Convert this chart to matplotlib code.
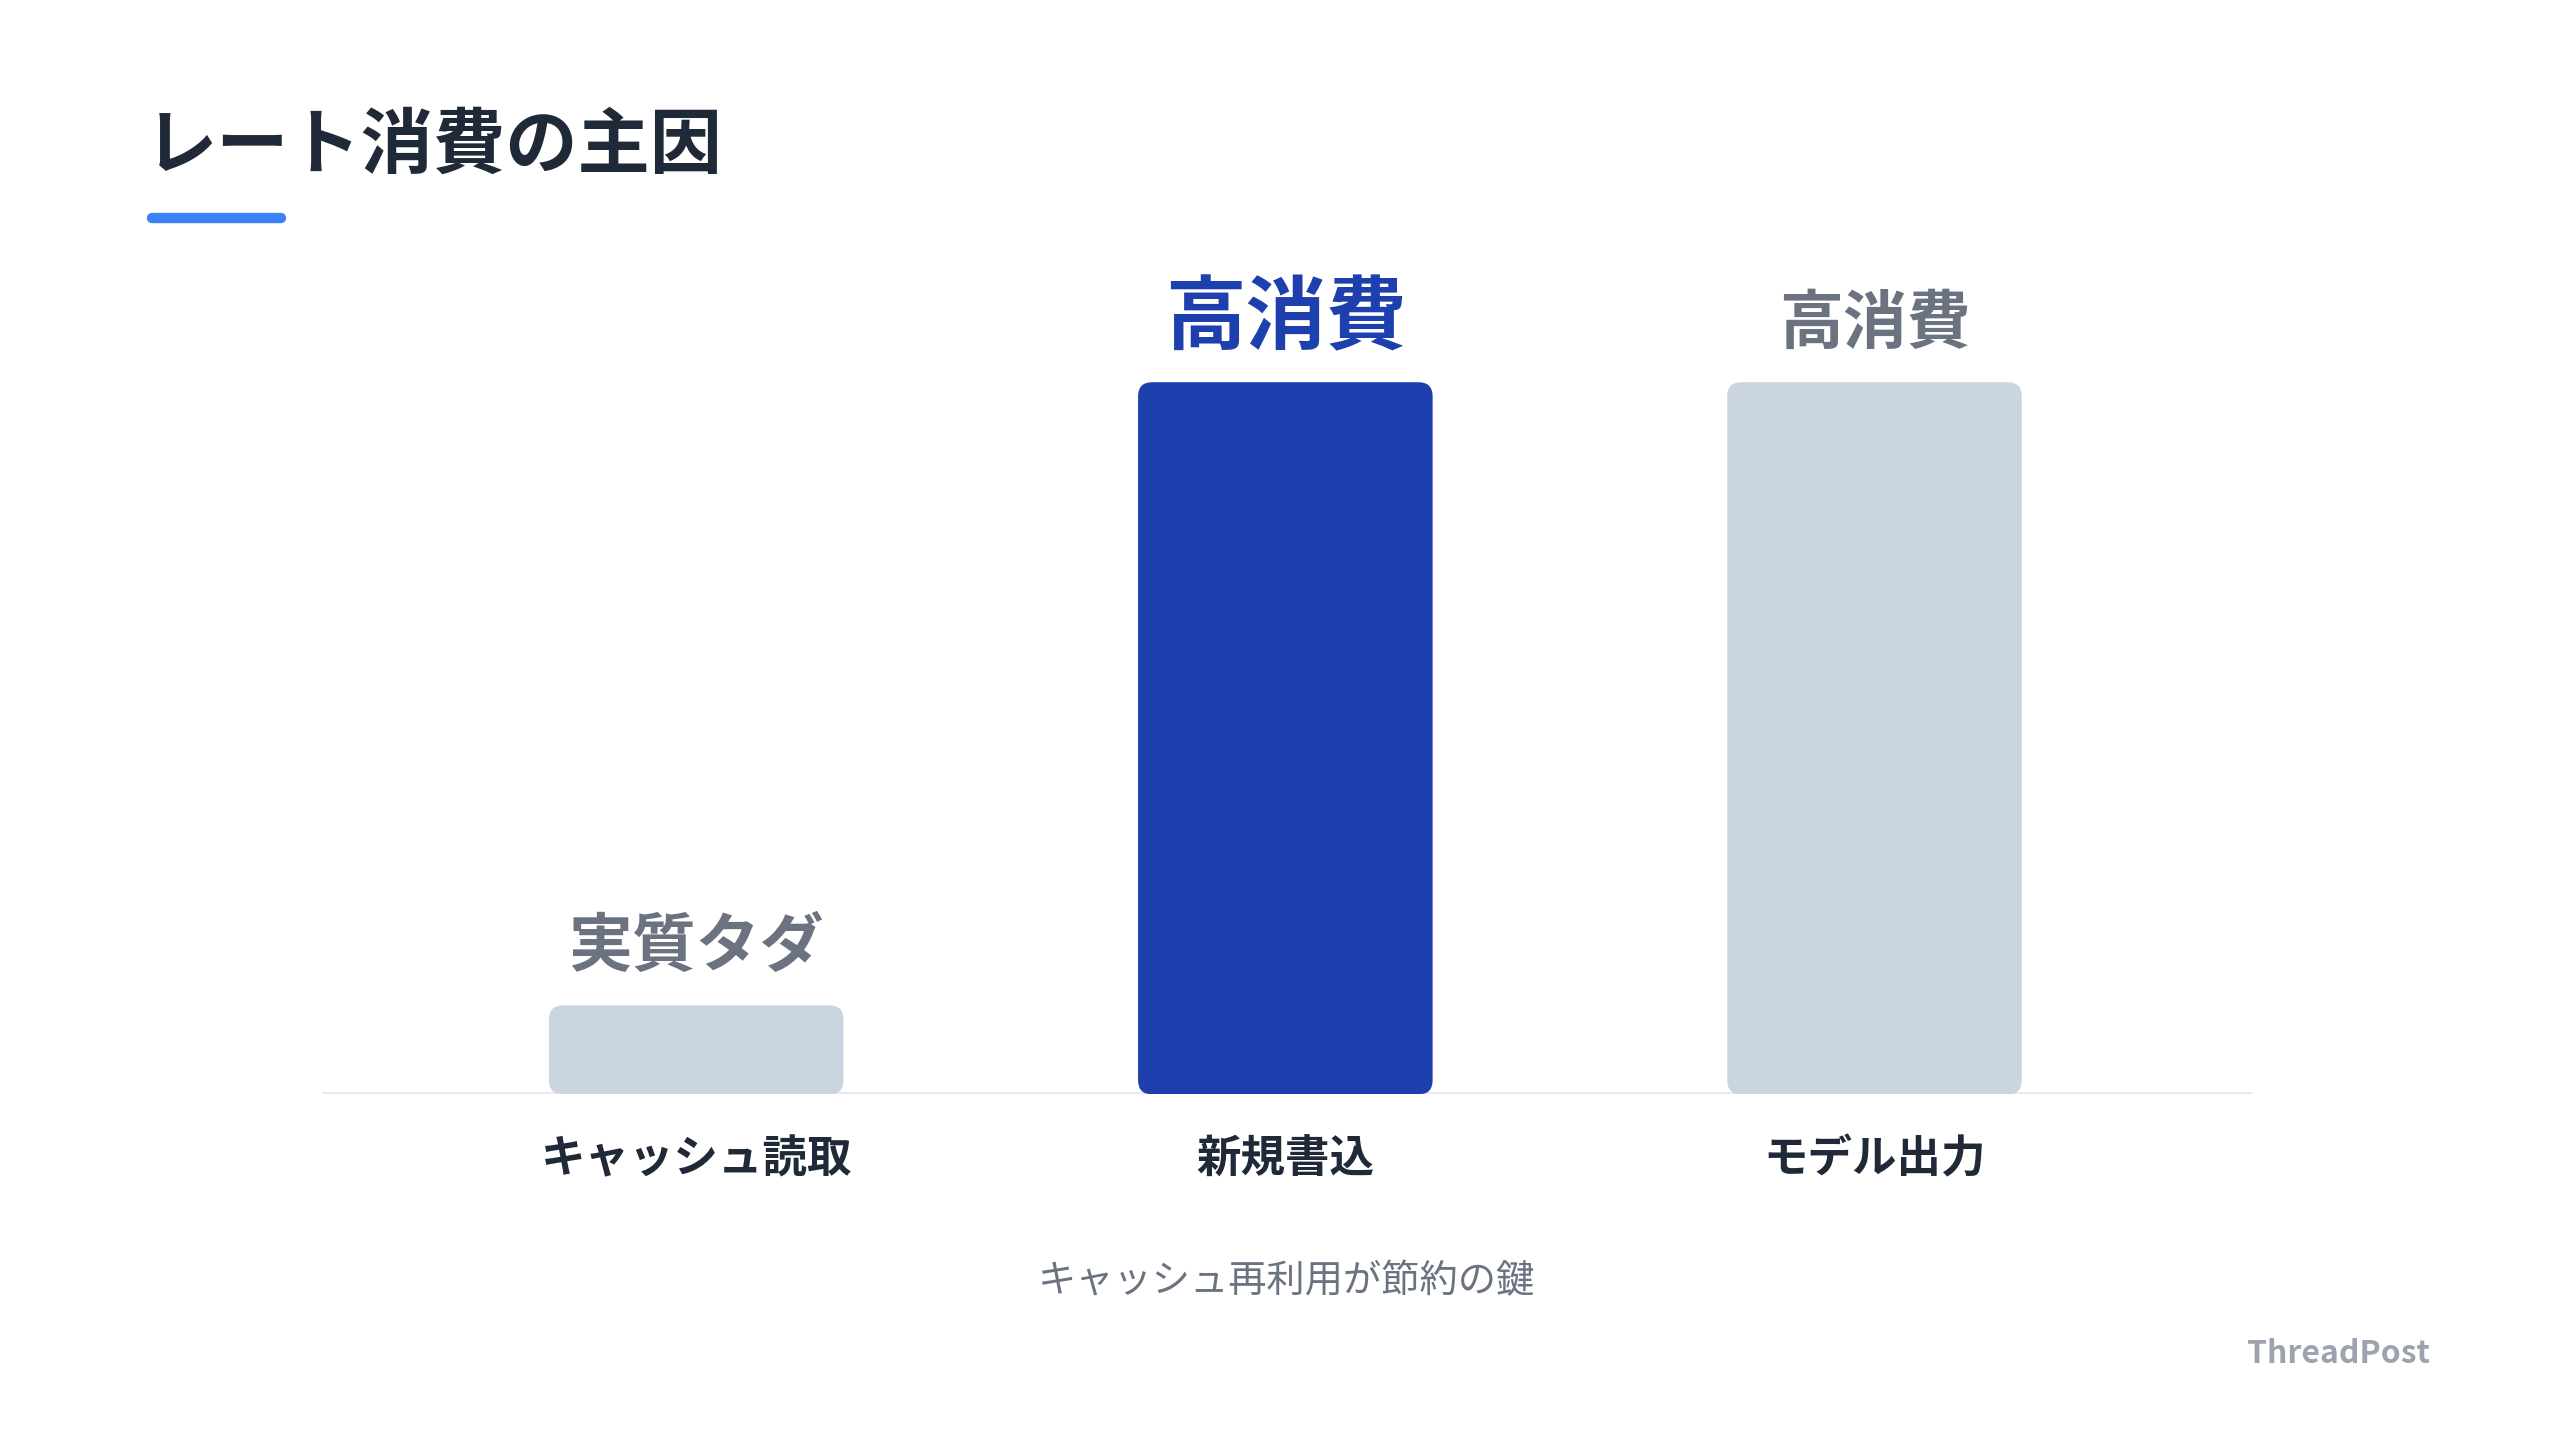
import matplotlib.pyplot as plt
from matplotlib.patches import FancyBboxPatch
from matplotlib.lines import Line2D

plt.rcParams['font.family'] = ['Noto Sans CJK JP', 'DejaVu Sans']

# data
categories = ['キャッシュ読取', '新規書込', 'モデル出力']
values = [12.5, 100, 100]
value_labels = ['実質タダ', '高消費', '高消費']
highlight = 1

title = 'レート消費の主因'
subtitle = 'キャッシュ再利用が節約の鍵'
brand = 'ThreadPost'

DARK = '#1f2937'
GRAY = '#6b7280'
LIGHT_GRAY = '#9ca3af'
BLUE = '#1e40af'
BAR_GRAY = '#cbd5e1'
ACCENT = '#3b82f6'

fig = plt.figure(figsize=(25.6, 14.4), dpi=100)
fig.patch.set_facecolor('white')

ax_left, ax_right = 0.1256, 0.8795
ax_bottom, ax_top = 0.240, 0.800
ax = fig.add_axes([ax_left, ax_bottom, ax_right - ax_left, ax_top - ax_bottom])

x = list(range(len(categories)))
xmin, xmax = -0.636, 2.64
ymax = 100 * (ax_top - ax_bottom) * 877.5 / 434
ax.set_xlim(xmin, xmax)
ax.set_ylim(0, ymax)

# invisible bars for geometry, then rounded patches on top
bars = ax.bar(x, values, width=0.5, color='none')
w_px = (ax_right - ax_left) * 2560
h_px = (ax_top - ax_bottom) * 1440
aspect = (ymax / h_px) / ((xmax - xmin) / w_px)
radius = 0.024
for i, b in enumerate(bars):
    color = BLUE if i == highlight else BAR_GRAY
    patch = FancyBboxPatch((b.get_x(), 0), b.get_width(), b.get_height(),
                           boxstyle=f'round,pad=0,rounding_size={radius}',
                           mutation_aspect=aspect, facecolor=color,
                           edgecolor='none', zorder=3)
    ax.add_patch(patch)

    if i == highlight:
        ax.annotate(value_labels[i], (b.get_x() + b.get_width() / 2, b.get_height()),
                    xytext=(0, 45), textcoords='offset points', ha='center', va='center',
                    fontsize=58, fontweight='bold', color=BLUE)
    else:
        ax.annotate(value_labels[i], (b.get_x() + b.get_width() / 2, b.get_height()),
                    xytext=(0, 42), textcoords='offset points', ha='center', va='center',
                    fontsize=46, fontweight='bold', color=GRAY)

ax.axhline(0, color='#e5e7eb', linewidth=2.6, zorder=1)

ax.set_xticks(x)
ax.set_xticklabels(categories, fontsize=32, fontweight='bold', color=DARK, va='center')
ax.tick_params(axis='x', length=0, pad=47)
ax.set_yticks([])
for s in ax.spines.values():
    s.set_visible(False)
ax.patch.set_alpha(0)

# title and accent bar
fig.text(0.0565, 0.898, title, fontsize=52, fontweight='bold', color=DARK,
         ha='left', va='center')
fig.add_artist(Line2D([0.0595, 0.1097], [0.8485, 0.8485], color=ACCENT,
                      linewidth=7.5, solid_capstyle='round', transform=fig.transFigure))

fig.text((ax_left + ax_right) / 2, 0.110, subtitle, fontsize=27.5, color=GRAY,
         ha='center', va='center')
fig.text(0.949, 0.060, brand, fontsize=23, fontweight='bold', color=LIGHT_GRAY,
         ha='right', va='center')

fig.savefig('out.png', dpi=100, facecolor='white')
